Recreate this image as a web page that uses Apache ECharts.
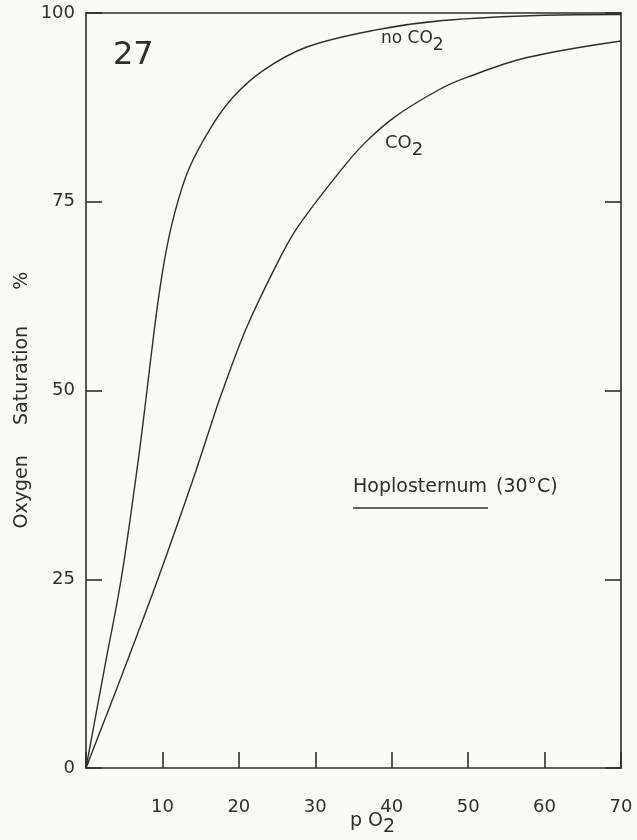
<!DOCTYPE html>
<html>
<head>
<meta charset="utf-8">
<title>Hoplosternum O2 curves</title>
<script src="https://cdn.jsdelivr.net/npm/echarts@6/dist/echarts.min.js"></script>
<style>
  html, body { margin: 0; padding: 0; background: #fbfaf4; }
  #chart { width: 637px; height: 840px; }
</style>
</head>
<body>
<div id="chart"></div>
<script>
// values (pO2, saturation %)
const noCO2 = [
  [0, 0], [2.4, 13.1], [4.6, 25], [6.4, 37.5], [7.5, 46], [8.4, 53.6],
  [9.4, 61.6], [10.4, 68], [11.6, 73.5], [13.4, 79.2], [16.2, 84.6],
  [19.2, 88.8], [23.2, 92.4], [28.9, 95.5], [37.6, 97.7], [46.7, 99.0],
  [60, 99.7], [70, 99.8]
]
const withCO2 = [
  [0, 0], [2.6, 6.8], [5.0, 13.1], [9.4, 25], [14, 38.2], [16.5, 45.9],
  [17.6, 49.2], [21.0, 58.3], [25.4, 67.6], [27.8, 71.8], [32.9, 78.6],
  [36.2, 82.5], [40.5, 86.3], [46.3, 89.9], [49.9, 91.5], [57.7, 94.1],
  [70, 96.3]
]
const xTicks = [0, 10, 20, 30, 40, 50, 60, 70]
const yTicks = [0, 25, 50, 75, 100]

const ink = '#2e2e2e'
const font = 'DejaVu Sans'

const chart = echarts.init(document.getElementById('chart'))

// onZero off so the top/right copies stay on the frame edges
const axisLine = { show: true, onZero: false, lineStyle: { color: ink, width: 1.6 } }
const tick = { show: true, inside: true, length: 16, lineStyle: { color: ink, width: 1.6 } }

chart.setOption({
  backgroundColor: '#fbfaf4',
  animation: false,
  grid: { left: 86, right: 16, top: 13, bottom: 72 },
  xAxis: [
    {
      type: 'value', min: xTicks[0], max: xTicks[xTicks.length - 1], interval: 10,
      axisLine, axisTick: tick, splitLine: { show: false },
      axisLabel: {
        color: ink, fontFamily: font, fontSize: 18, margin: 30,
        formatter: v => (v === 0 ? '' : String(v))
      }
    },
    {
      type: 'value', position: 'top', min: 0, max: 70, interval: 10,
      axisLine, axisTick: { show: false }, axisLabel: { show: false }, splitLine: { show: false }
    }
  ],
  yAxis: [
    {
      type: 'value', min: yTicks[0], max: yTicks[yTicks.length - 1], interval: 25,
      axisLine, axisTick: tick, splitLine: { show: false },
      axisLabel: { color: ink, fontFamily: font, fontSize: 18, margin: 11 }
    },
    {
      type: 'value', position: 'right', min: 0, max: 100, interval: 25,
      axisLine, axisTick: tick, axisLabel: { show: false }, splitLine: { show: false }
    }
  ],
  series: [
    {
      name: 'no CO2', type: 'line', data: noCO2, smooth: 0.35,
      symbol: 'none', lineStyle: { color: ink, width: 1.4 }
    },
    {
      name: 'CO2', type: 'line', data: withCO2, smooth: 0.35,
      symbol: 'none', lineStyle: { color: ink, width: 1.4 }
    }
  ],
  graphic: [
    {
      type: 'text', left: 113, top: 40,
      style: { text: '27', fill: ink, font: '32px ' + font }
    },
    {
      type: 'text', left: 381, top: 30,
      style: {
        text: '{a|no CO}{s|2}', fill: ink,
        rich: {
          a: { fontFamily: font, fontSize: 17, fill: ink },
          s: { fontFamily: font, fontSize: 17, fill: ink, padding: [14, 0, 0, 0] }
        }
      }
    },
    {
      type: 'text', left: 385, top: 134,
      style: {
        text: '{a|CO}{s|2}', fill: ink,
        rich: {
          a: { fontFamily: font, fontSize: 18, fill: ink },
          s: { fontFamily: font, fontSize: 18, fill: ink, padding: [14, 0, 0, 0] }
        }
      }
    },
    {
      type: 'text', left: 353, top: 478,
      style: { text: 'Hoplosternum', fill: ink, font: '19px ' + font }
    },
    {
      type: 'line', shape: { x1: 353, y1: 508, x2: 488, y2: 508 },
      style: { stroke: ink, lineWidth: 1.6 }
    },
    {
      type: 'text', left: 496, top: 478,
      style: { text: '(30°C)', fill: ink, font: '19px ' + font }
    },
    {
      type: 'text', x: 22, y: 400, rotation: Math.PI / 2,
      style: {
        text: 'Oxygen     Saturation      %', fill: ink, font: '19px ' + font,
        align: 'center', verticalAlign: 'middle'
      }
    },
    {
      type: 'text', left: 350, top: 812,
      style: {
        text: '{a|p O}{s|2}', fill: ink,
        rich: {
          a: { fontFamily: font, fontSize: 19, fill: ink },
          s: { fontFamily: font, fontSize: 19, fill: ink, padding: [12, 0, 0, 0] }
        }
      }
    }
  ]
})
</script>
</body>
</html>
